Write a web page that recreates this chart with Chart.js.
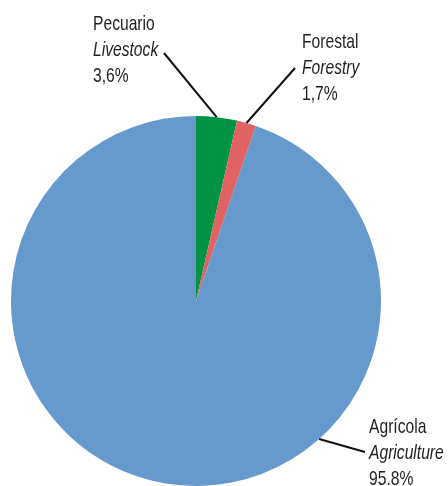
<!DOCTYPE html>
<html>
<head>
<meta charset="utf-8">
<script src="https://cdn.jsdelivr.net/npm/chart.js@4"></script>
<style>
  html, body { margin: 0; padding: 0; background: #fff; }
  #wrap { width: 448px; height: 486px; }
</style>
</head>
<body>
<div id="wrap"><canvas id="pie"></canvas></div>
<script>
// data
const labelsEs = ['Pecuario', 'Forestal', 'Agrícola'];
const labelsEn = ['Livestock', 'Forestry', 'Agriculture'];
const shares = [3.6, 1.7, 95.8];
const shareText = ['3,6%', '1,7%', '95.8%'];
const colors = ['#009245', '#E06262', '#6699CC'];

// where each callout sits (text left edge / first baseline, line end) and
// where on the rim its leader starts (fraction of the slice, 0.5 = middle)
const callouts = [
  { x: 93, y: 30, lineEnd: [164, 53], rimFrac: 0.5 },
  { x: 302, y: 48, lineEnd: [295, 68], rimFrac: 0.5 },
  { x: 369, y: 433, lineEnd: [365, 452], rimFrac: 0.35 }
];

const TEXT_SCALE = 0.745; // squeeze to look like the condensed face
const LINE_GAP = 26;

const calloutPlugin = {
  id: 'callouts',
  afterDraw(chart) {
    const ctx = chart.ctx;
    const arcs = chart.getDatasetMeta(0).data;
    ctx.save();
    ctx.strokeStyle = '#111';
    ctx.lineWidth = 2;
    arcs.forEach((arc, i) => {
      const c = callouts[i];
      const p = arc.getProps(['x', 'y', 'startAngle', 'endAngle', 'outerRadius'], true);
      const a = p.startAngle + (p.endAngle - p.startAngle) * c.rimFrac;
      const sx = p.x + Math.cos(a) * p.outerRadius;
      const sy = p.y + Math.sin(a) * p.outerRadius;
      ctx.beginPath();
      ctx.moveTo(sx, sy);
      ctx.lineTo(c.lineEnd[0], c.lineEnd[1]);
      ctx.stroke();

      const lines = [
        { t: labelsEs[i], italic: false },
        { t: labelsEn[i], italic: true },
        { t: shareText[i], italic: false }
      ];
      ctx.fillStyle = '#231F20';
      ctx.textBaseline = 'alphabetic';
      lines.forEach((ln, k) => {
        ctx.save();
        ctx.translate(c.x, c.y + k * LINE_GAP);
        ctx.scale(TEXT_SCALE, 1);
        ctx.font = (ln.italic ? 'italic ' : '') + '21px "Liberation Sans", Arial, sans-serif';
        ctx.fillText(ln.t, 0, 0);
        ctx.restore();
      });
    });
    ctx.restore();
  }
};

new Chart(document.getElementById('pie'), {
  type: 'pie',
  data: {
    labels: labelsEs,
    datasets: [{
      data: shares,
      backgroundColor: colors,
      borderWidth: 0
    }]
  },
  options: {
    responsive: true,
    maintainAspectRatio: false,
    animation: false,
    layout: { padding: { left: 11, right: 67, top: 116, bottom: 0 } },
    plugins: {
      legend: { display: false },
      tooltip: { enabled: false }
    }
  },
  plugins: [calloutPlugin]
});
</script>
</body>
</html>
